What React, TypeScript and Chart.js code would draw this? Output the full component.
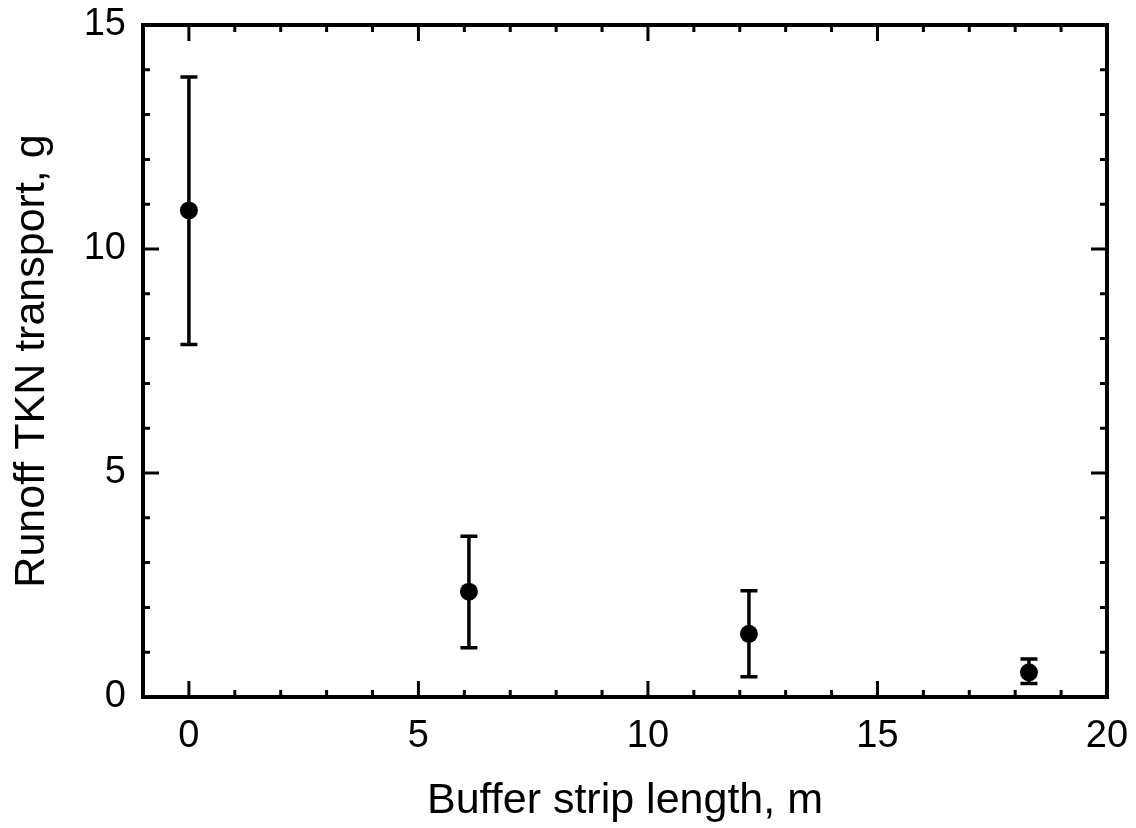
import React, { useEffect, useRef } from "react";
import { Chart, registerables } from "chart.js";

Chart.register(...registerables);

const bufferLength = [0, 6.1, 12.2, 18.3];
const tknMean = [10.86, 2.35, 1.41, 0.55];
const tknUpper = [13.84, 3.59, 2.37, 0.85];
const tknLower = [7.87, 1.1, 0.45, 0.3];

const xTickValues = [0, 5, 10, 15, 20];
const yTickValues = [0, 5, 10, 15];

const FONT = "'Liberation Sans', Arial, Helvetica, sans-serif";

const framePlugin = {
  id: "frameTicks",
  beforeDatasetsDraw(chart: any) {
    const { ctx, scales } = chart;
    const xs = scales.x;
    const ys = scales.y;
    ctx.save();
    ctx.strokeStyle = "#000";
    ctx.lineWidth = 3.5;
    const cap = 8.5;
    for (let i = 0; i < bufferLength.length; i++) {
      const px = xs.getPixelForValue(bufferLength[i]);
      const pt = ys.getPixelForValue(tknUpper[i]);
      const pb = ys.getPixelForValue(tknLower[i]);
      ctx.beginPath();
      ctx.moveTo(px, pt);
      ctx.lineTo(px, pb);
      ctx.moveTo(px - cap, pt);
      ctx.lineTo(px + cap, pt);
      ctx.moveTo(px - cap, pb);
      ctx.lineTo(px + cap, pb);
      ctx.stroke();
    }
    ctx.restore();
  },
  afterDraw(chart: any) {
    const { ctx, chartArea, scales } = chart;
    const { left, right, top, bottom } = chartArea;
    const xs = scales.x;
    const ys = scales.y;
    ctx.save();
    ctx.strokeStyle = "#000";
    ctx.lineWidth = 3;
    const major = 16;
    const minor = 7;
    for (let v = Math.ceil(xs.min); v <= xs.max; v++) {
      if (v === xs.min || v === xs.max) continue;
      const px = xs.getPixelForValue(v);
      const len = v % 5 === 0 ? major : minor;
      ctx.beginPath();
      ctx.moveTo(px, bottom);
      ctx.lineTo(px, bottom - len);
      ctx.moveTo(px, top);
      ctx.lineTo(px, top + len);
      ctx.stroke();
    }
    for (let v = Math.ceil(ys.min); v <= ys.max; v++) {
      if (v === ys.min || v === ys.max) continue;
      const py = ys.getPixelForValue(v);
      const len = v % 5 === 0 ? major : minor;
      ctx.beginPath();
      ctx.moveTo(left, py);
      ctx.lineTo(left + len, py);
      ctx.moveTo(right, py);
      ctx.lineTo(right - len, py);
      ctx.stroke();
    }
    ctx.lineWidth = 4;
    ctx.strokeRect(left, top, right - left, bottom - top);
    ctx.restore();
  },
};

export default function App() {
  const canvasRef = useRef<HTMLCanvasElement | null>(null);

  useEffect(() => {
    if (!canvasRef.current) return;
    const chart = new Chart(canvasRef.current, {
      type: "scatter",
      data: {
        datasets: [
          {
            label: "TKN",
            data: bufferLength.map((x, i) => ({ x, y: tknMean[i] })),
            backgroundColor: "#000",
            borderColor: "#000",
            pointRadius: 9,
            pointHoverRadius: 9,
            borderWidth: 0,
          },
        ],
      },
      options: {
        animation: false,
        responsive: true,
        maintainAspectRatio: false,
        layout: { padding: { left: 0, top: 25, right: 29, bottom: 0 } },
        plugins: {
          legend: { display: false },
          tooltip: { enabled: false },
        },
        scales: {
          x: {
            type: "linear",
            min: -1,
            max: 20,
            afterBuildTicks: (scale: any) => {
              scale.ticks = xTickValues.map((v) => ({ value: v }));
            },
            afterFit: (scale: any) => {
              scale.height = 131;
              scale.paddingLeft = 0;
              scale.paddingRight = 0;
            },
            grid: { display: false, drawTicks: false },
            border: { display: false },
            ticks: {
              color: "#000",
              padding: 17,
              maxRotation: 0,
              autoSkip: false,
              font: { family: FONT, size: 38 },
            },
            title: {
              display: true,
              text: "Buffer strip length, m",
              color: "#000",
              font: { family: FONT, size: 43 },
              padding: { top: 0, bottom: 1 },
            },
          },
          y: {
            type: "linear",
            min: 0,
            max: 15,
            afterBuildTicks: (scale: any) => {
              scale.ticks = yTickValues.map((v) => ({ value: v }));
            },
            afterFit: (scale: any) => {
              scale.width = 143;
              scale.paddingTop = 0;
              scale.paddingBottom = 0;
            },
            grid: { display: false, drawTicks: false },
            border: { display: false },
            ticks: {
              color: "#000",
              padding: 17,
              autoSkip: false,
              font: { family: FONT, size: 38 },
            },
            title: {
              display: true,
              text: "Runoff TKN transport, g",
              color: "#000",
              font: { family: FONT, size: 43 },
              padding: { top: 6, bottom: 0 },
            },
          },
        },
      },
      plugins: [framePlugin],
    });
    return () => chart.destroy();
  }, []);

  return (
    <div
      style={{
        position: "fixed",
        left: 0,
        top: 0,
        width: 1136,
        height: 828,
        background: "#fff",
      }}
    >
      <canvas ref={canvasRef} />
    </div>
  );
}
